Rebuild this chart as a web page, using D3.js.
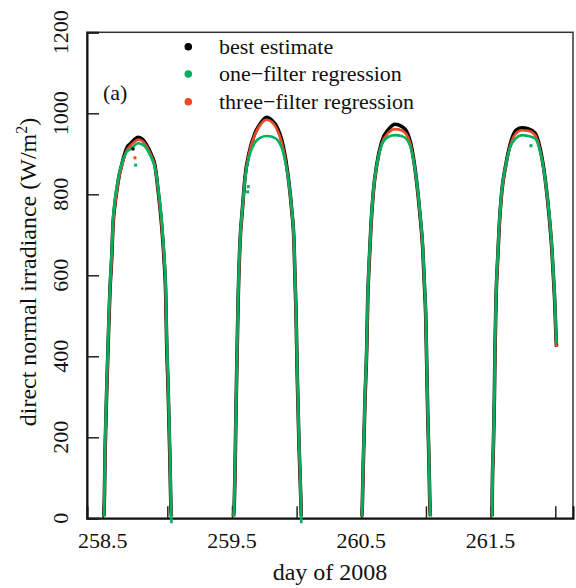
<!DOCTYPE html>
<html>
<head>
<meta charset="utf-8">
<script src="https://cdn.jsdelivr.net/npm/d3@7"></script>
<style>
  body { margin: 0; background: #fff; }
  svg text { font-family: "Liberation Serif", "DejaVu Serif", serif; fill: #111; }
</style>
</head>
<body>
<svg id="chart" width="576" height="588"></svg>
<script>
// sample times for each day (day of 2008)
const dayTimes = [
  [258.510, 258.514, 258.518, 258.524, 258.531, 258.543, 258.556, 258.570, 258.580, 258.593, 258.608, 258.627, 258.647, 258.666, 258.686, 258.715, 258.745, 258.775, 258.800, 258.828, 258.853, 258.880, 258.904, 258.930, 258.956, 258.974, 258.987, 258.995, 259.007, 259.020, 259.028, 259.032],
  [259.512, 259.518, 259.523, 259.531, 259.541, 259.549, 259.562, 259.580, 259.601, 259.632, 259.678, 259.720, 259.768, 259.810, 259.846, 259.897, 259.935, 259.962, 259.980, 259.987, 259.995, 260.005, 260.018, 260.031, 260.036],
  [260.504, 260.508, 260.515, 260.529, 260.542, 260.550, 260.560, 260.575, 260.593, 260.619, 260.658, 260.710, 260.761, 260.810, 260.851, 260.890, 260.928, 260.954, 260.975, 260.987, 260.998, 261.006, 261.014, 261.024, 261.029, 261.034],
  [261.511, 261.513, 261.521, 261.529, 261.534, 261.542, 261.555, 261.567, 261.586, 261.617, 261.650, 261.695, 261.741, 261.790, 261.844, 261.882, 261.921, 261.952, 261.973, 261.988, 261.998, 262.004, 262.009]
];

// direct normal irradiance (W/m2), one sub-array per day
const bestEstimate = [
  [5, 60, 150, 230, 312, 435, 559, 643, 724, 770, 806, 845, 872, 895, 914, 925, 935, 941, 938, 928, 914, 895, 872, 806, 724, 643, 559, 435, 312, 149, 25, 5],
  [5, 38, 103, 267, 433, 556, 680, 761, 843, 902, 951, 975, 990, 982, 967, 918, 843, 761, 679, 597, 514, 350, 186, 62, 5],
  [5, 33, 132, 297, 420, 544, 625, 724, 806, 872, 930, 960, 973, 968, 955, 914, 831, 749, 667, 584, 502, 379, 255, 132, 50, 5],
  [5, 70, 174, 297, 420, 544, 643, 724, 806, 872, 922, 958, 964, 962, 951, 914, 840, 749, 667, 584, 519, 461, 424]
];
const oneFilter = [
  [5, 75, 170, 250, 330, 455, 575, 660, 738, 785, 818, 852, 876, 893, 905, 912, 920, 926, 924, 918, 905, 888, 866, 815, 740, 660, 580, 460, 335, 170, 40, -12],
  [5, 45, 115, 280, 445, 566, 688, 765, 840, 892, 928, 940, 944, 942, 936, 902, 840, 765, 686, 605, 522, 360, 195, 70, -12],
  [5, 40, 145, 310, 432, 556, 636, 733, 812, 872, 922, 942, 946, 944, 936, 905, 832, 755, 676, 594, 512, 390, 265, 142, 58, 5],
  [5, 80, 185, 310, 432, 556, 652, 731, 812, 872, 915, 938, 946, 944, 938, 906, 840, 756, 676, 593, 528, 470, 432]
];
const threeFilter = [
  [5, 62, 148, 228, 308, 430, 555, 640, 720, 768, 803, 842, 868, 890, 908, 920, 929, 935, 933, 924, 911, 892, 870, 806, 726, 645, 562, 440, 316, 152, 28, 5],
  [5, 36, 100, 262, 428, 552, 676, 758, 840, 900, 948, 972, 984, 978, 962, 912, 840, 760, 680, 598, 516, 352, 188, 64, 5],
  [5, 32, 130, 294, 417, 541, 622, 721, 803, 869, 925, 952, 961, 958, 947, 910, 830, 750, 668, 586, 505, 382, 258, 135, 52, 5],
  [5, 68, 172, 294, 417, 541, 640, 721, 803, 869, 918, 950, 958, 957, 946, 910, 838, 750, 668, 585, 520, 462, 425]
];

// stray points off the main curves [day, value]
const bestStray = [[258.735, 912]];
const oneStray = [[258.755, 872], [259.621, 806], [259.626, 819], [261.812, 920]];
const threeStray = [[258.750, 890]];

const seriesNames = ["best estimate", "one\u2212filter regression", "three\u2212filter regression"];
const seriesColors = ["#000000", "#00b061", "#ee4a22"];

const xTicks = [258.5, 259, 259.5, 260, 260.5, 261, 261.5, 262];
const xTickLabels = [258.5, 259.5, 260.5, 261.5];
const yTicks = [0, 200, 400, 600, 800, 1000, 1200];

const svg = d3.select("#chart");
const serif = "'Liberation Serif', 'DejaVu Serif', serif";

const x = d3.scaleLinear().domain([258.379, 262.137]).range([87, 573]);
const y = d3.scaleLinear().domain([0, 1200]).range([518.3, 32.3]);

// box
svg.append("rect")
  .attr("x", 87).attr("y", 32.3)
  .attr("width", 486).attr("height", 486)
  .attr("fill", "none")
  .attr("stroke", "#333")
  .attr("stroke-width", 1.5);

// x axis, ticks pointing inward
const xAxis = svg.append("g").attr("transform", "translate(0,518.3)")
  .call(d3.axisBottom(x).tickValues(xTicks).tickSize(-12).tickFormat(""));
xAxis.select(".domain").attr("stroke", "#111").attr("stroke-width", 2);
xAxis.selectAll(".tick line").attr("stroke", "#222").attr("stroke-width", 1.5);

svg.selectAll(".xlab")
  .data(xTickLabels)
  .enter()
  .append("text")
  .attr("x", d => x(d))
  .attr("y", 548)
  .attr("text-anchor", "middle")
  .attr("font-family", serif)
  .style("font-size", "22px")
  .text(d => d.toFixed(1));

// y axis
const yAxis = svg.append("g").attr("transform", "translate(87,0)")
  .call(d3.axisLeft(y).tickValues(yTicks).tickSize(-12).tickFormat(""));
yAxis.select(".domain").attr("stroke", "#111").attr("stroke-width", 2);
yAxis.selectAll(".tick line").attr("stroke", "#222").attr("stroke-width", 1.5);

svg.selectAll(".ylab")
  .data(yTicks)
  .enter()
  .append("text")
  .attr("transform", d => `translate(68,${y(d)}) rotate(-90)`)
  .attr("text-anchor", "middle")
  .attr("font-family", serif)
  .style("font-size", "22px")
  .text(d => d);

// axis titles
svg.append("text")
  .attr("x", 330).attr("y", 580)
  .attr("text-anchor", "middle")
  .attr("font-family", serif)
  .style("font-size", "24px")
  .text("day of 2008");

const yTitle = svg.append("text")
  .attr("transform", "translate(36,272) rotate(-90)")
  .attr("text-anchor", "middle")
  .attr("font-family", serif)
  .style("font-size", "24px");
yTitle.append("tspan").text("direct normal irradiance (W/m");
yTitle.append("tspan").attr("dy", "-9").style("font-size", "16px").text("2");
yTitle.append("tspan").attr("dy", "9").text(")");

// curves: black first, then red, green on top (it sits outside on the flanks)
const line = d3.line()
  .x(d => x(d[0]))
  .y(d => y(d[1]))
  .curve(d3.curveMonotoneX);

const drawOrder = [0, 2, 1];
const allSeries = [bestEstimate, oneFilter, threeFilter];
const widths = [3.6, 2.6, 2.6];

drawOrder.forEach(s => {
  allSeries[s].forEach((vals, i) => {
    const pts = dayTimes[i].map((t, j) => [t, vals[j]]);
    svg.append("path")
      .datum(pts)
      .attr("fill", "none")
      .attr("stroke", seriesColors[s])
      .attr("stroke-width", widths[s])
      .attr("stroke-linejoin", "round")
      .attr("d", line);
  });
});

// stray points
[bestStray, oneStray, threeStray].forEach((pts, s) => {
  svg.selectAll(".stray" + s)
    .data(pts)
    .enter()
    .append("rect")
    .attr("x", d => x(d[0]) - 1.5)
    .attr("y", d => y(d[1]) - 1.5)
    .attr("width", 3)
    .attr("height", 3)
    .attr("fill", seriesColors[s]);
});

// legend
const legendY = [46.7, 74, 101.7];
seriesNames.forEach((name, i) => {
  svg.append("circle")
    .attr("cx", 188.3).attr("cy", legendY[i])
    .attr("r", 3.8)
    .attr("fill", seriesColors[i]);
  svg.append("text")
    .attr("x", 219).attr("y", legendY[i] + 6.8)
    .attr("font-family", serif)
    .style("font-size", "22px")
    .text(name);
});

svg.append("text")
  .attr("x", 103).attr("y", 100)
  .attr("font-family", serif)
  .style("font-size", "22px")
  .text("(a)");
</script>
</body>
</html>
